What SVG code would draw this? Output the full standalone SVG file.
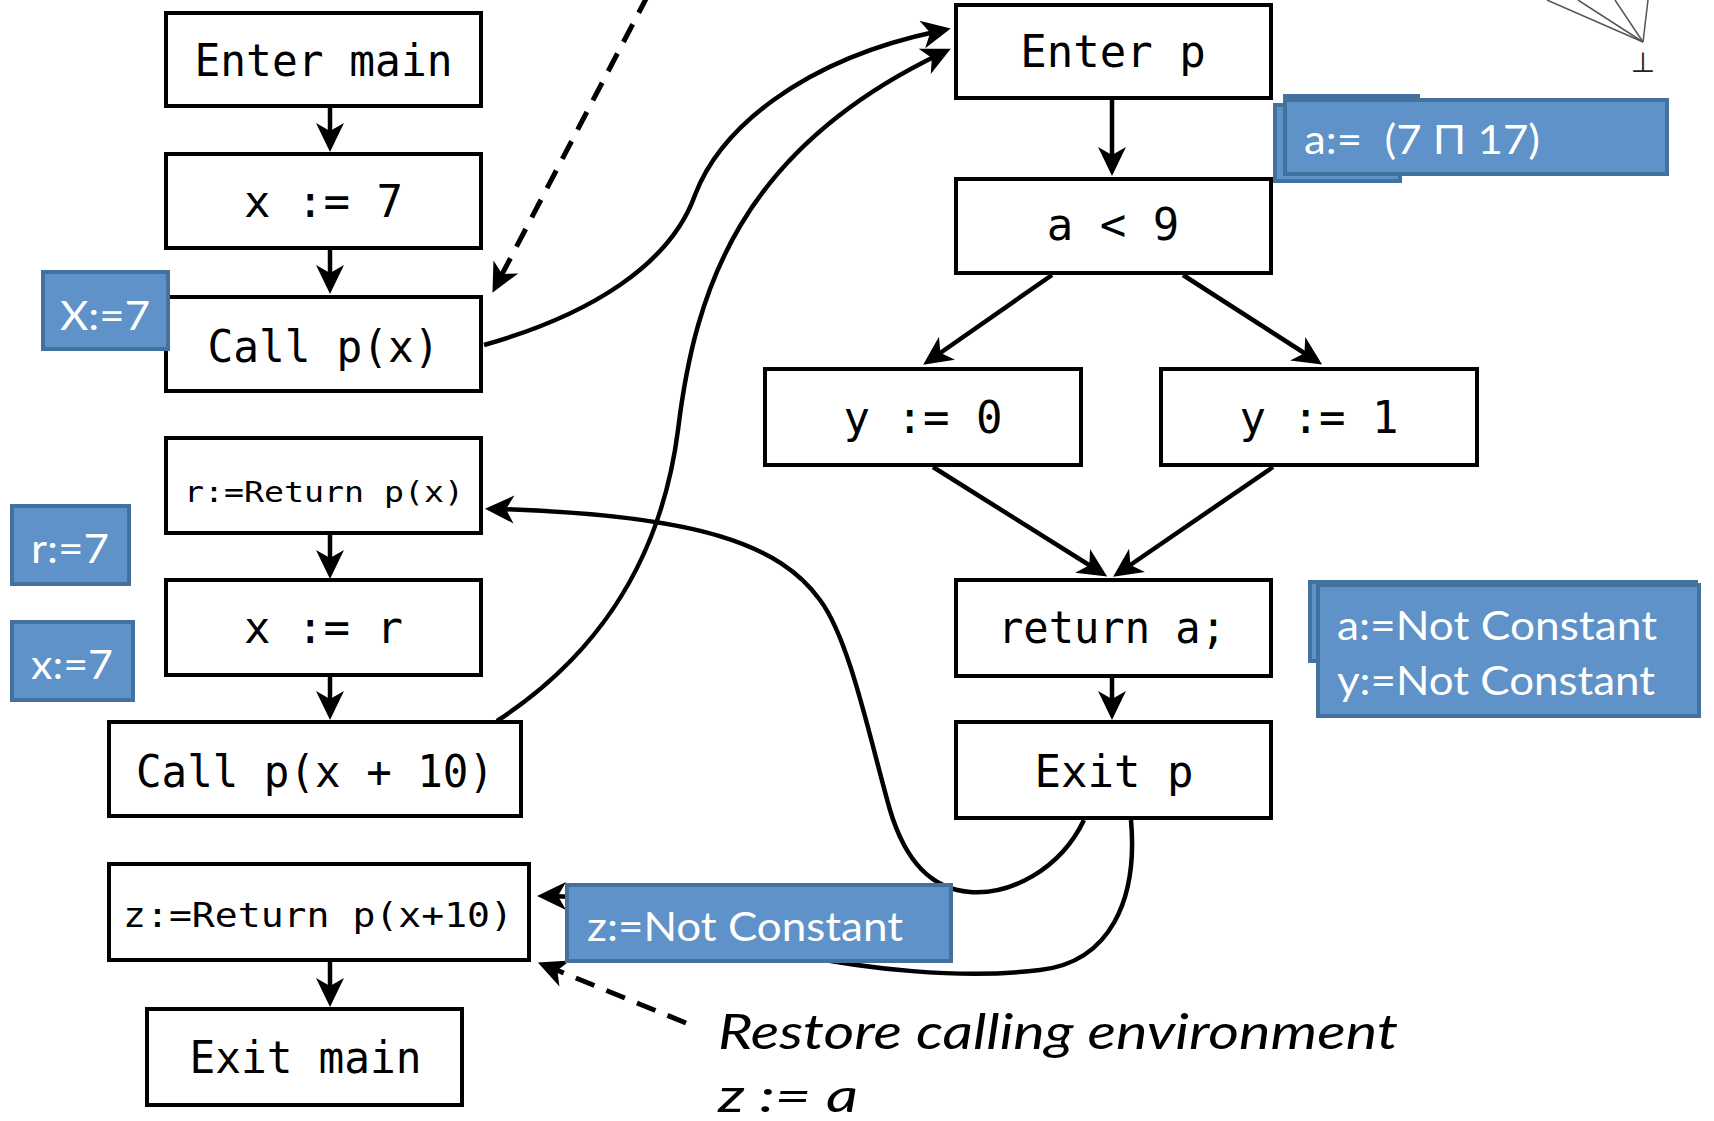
<svg xmlns="http://www.w3.org/2000/svg" width="1714" height="1121" viewBox="0 0 1714 1121">
<style>
.box{fill:#fff;stroke:#000;stroke-width:4}
.lbl{font-family:"DejaVu Sans Mono","Liberation Mono",monospace;font-size:44px;fill:#000;text-anchor:middle}
.edge{fill:none;stroke:#000;stroke-width:4.5;marker-end:url(#ah)}
.dash{fill:none;stroke:#000;stroke-width:5;stroke-dasharray:20 13;marker-end:url(#ah)}
.note{fill:#5e92c8;stroke:#44729f;stroke-width:4}
.nt{font-family:Lato,"Open Sans","Liberation Sans",sans-serif;font-size:40px;fill:#fff}
.it{font-family:Lato,"Open Sans","Liberation Sans",sans-serif;font-style:italic;font-size:48px;fill:#000}
.thin{stroke:#555;stroke-width:1.5;fill:none}
</style>
<defs>
<marker id="ah" markerUnits="userSpaceOnUse" markerWidth="40" markerHeight="40" viewBox="-20 -20 40 40" refX="0" refY="0" orient="auto">
<path d="M12,0 L-17,-14 L-9,0 L-17,14 Z" fill="#000"/>
</marker>
</defs>
<rect width="1714" height="1121" fill="#fff"/>

<g id="lattice">
<line class="thin" x1="1547" y1="0" x2="1643" y2="42"/>
<line class="thin" x1="1578" y1="0" x2="1643" y2="42"/>
<line class="thin" x1="1615" y1="0" x2="1643" y2="42"/>
<line class="thin" x1="1648" y1="0" x2="1643" y2="42"/>
<text x="1643" y="72" font-family="DejaVu Sans,sans-serif" font-size="28" fill="#222" text-anchor="middle">⊥</text>
</g>

<g id="connectors">
<path class="edge" d="M330,108 V140"/>
<path class="edge" d="M330,250 V282"/>
<path class="edge" d="M330,535 V567"/>
<path class="edge" d="M330,677 V708"/>
<path class="edge" d="M330,962 V995"/>
<path class="edge" d="M1112,100 V164"/>
<path class="edge" d="M1112,678 V708"/>
<path class="edge" d="M1052,275 L933,358"/>
<path class="edge" d="M1183,275 L1312,358"/>
<path class="edge" d="M933,467 L1097,570"/>
<path class="edge" d="M1273,467 L1123,570"/>
<path class="edge" d="M484,345 C590,315 670,265 695,195 C720,130 800,60 939,31"/>
<path class="edge" d="M497,721 C590,660 660,570 678,430 C695,290 740,150 940,54"/>
<path class="edge" d="M1084,820 C1060,870 1010,895 970,892 C930,889 905,860 890,810 C870,740 850,640 820,600 C780,545 700,515 497,509"/>
<path class="edge" d="M1131,820 C1138,900 1110,962 1040,970 C960,980 860,968 800,955 C720,938 640,896 549,896"/>
<path class="dash" d="M648,-5 L498,282"/>
<path class="dash" d="M686,1023 L549,967"/>
</g>

<g id="n-enter-main"><rect class="box" x="166" y="13" width="315" height="93"/><text class="lbl" x="323.5" y="76" textLength="258" lengthAdjust="spacingAndGlyphs">Enter main</text></g>
<g id="n-x7"><rect class="box" x="166" y="154" width="315" height="94"/><text class="lbl" x="323.5" y="217">x := 7</text></g>
<g id="n-callpx"><rect class="box" x="166" y="297" width="315" height="94"/><text class="lbl" x="323.5" y="362" textLength="232" lengthAdjust="spacingAndGlyphs">Call p(x)</text></g>
<g id="n-retpx"><rect class="box" x="166" y="438" width="315" height="95"/><text class="lbl" x="324" y="502" style="font-size:28px" textLength="280" lengthAdjust="spacingAndGlyphs">r:=Return p(x)</text></g>
<g id="n-xr"><rect class="box" x="166" y="580" width="315" height="95"/><text class="lbl" x="323.5" y="643">x := r</text></g>
<g id="n-callpx10"><rect class="box" x="109" y="722" width="412" height="94"/><text class="lbl" x="315" y="787" textLength="358" lengthAdjust="spacingAndGlyphs">Call p(x + 10)</text></g>
<g id="n-retpx10"><rect class="box" x="109" y="864" width="420" height="96"/><text class="lbl" x="318" y="927" style="font-size:33px" textLength="390" lengthAdjust="spacingAndGlyphs">z:=Return p(x+10)</text></g>
<g id="n-exit-main"><rect class="box" x="147" y="1009" width="315" height="96"/><text class="lbl" x="305.5" y="1073" textLength="232" lengthAdjust="spacingAndGlyphs">Exit main</text></g>
<g id="n-enter-p"><rect class="box" x="956" y="5" width="315" height="93"/><text class="lbl" x="1113" y="67">Enter p</text></g>
<g id="n-alt9"><rect class="box" x="956" y="179" width="315" height="94"/><text class="lbl" x="1113" y="240">a &lt; 9</text></g>
<g id="n-y0"><rect class="box" x="765" y="369" width="316" height="96"/><text class="lbl" x="923" y="433">y := 0</text></g>
<g id="n-y1"><rect class="box" x="1161" y="369" width="316" height="96"/><text class="lbl" x="1319" y="433">y := 1</text></g>
<g id="n-return"><rect class="box" x="956" y="580" width="315" height="96"/><text class="lbl" x="1112" y="643" textLength="228" lengthAdjust="spacingAndGlyphs">return a;</text></g>
<g id="n-exit-p"><rect class="box" x="956" y="722" width="315" height="96"/><text class="lbl" x="1114" y="787">Exit p</text></g>

<g id="note-X7"><rect class="note" x="43" y="272" width="125" height="77"/><text class="nt" x="60" y="330" textLength="90" lengthAdjust="spacingAndGlyphs">X:=7</text></g>
<g id="note-r7"><rect class="note" x="12" y="506" width="117" height="78"/><text class="nt" x="31" y="563" textLength="78" lengthAdjust="spacingAndGlyphs">r:=7</text></g>
<g id="note-x7"><rect class="note" x="12" y="622" width="121" height="78"/><text class="nt" x="31" y="679" textLength="82" lengthAdjust="spacingAndGlyphs">x:=7</text></g>
<g id="note-a">
<rect class="note" x="1285" y="96" width="133" height="60"/>
<rect class="note" x="1275" y="105" width="125" height="76"/>
<rect class="note" x="1285" y="100" width="382" height="74"/>
<text class="nt" x="1304" y="154" textLength="236" lengthAdjust="spacingAndGlyphs" xml:space="preserve">a:=  (7 Π 17)</text>
</g>
<g id="note-ay">
<rect class="note" x="1310" y="582" width="386" height="79"/>
<rect class="note" x="1318" y="585" width="381" height="131"/>
<text class="nt" x="1337" y="640" textLength="320" lengthAdjust="spacingAndGlyphs">a:=Not Constant</text>
<text class="nt" x="1337" y="695" textLength="318" lengthAdjust="spacingAndGlyphs">y:=Not Constant</text>
</g>
<g id="note-z"><rect class="note" x="567" y="885" width="384" height="76"/><text class="nt" x="587" y="941" textLength="316" lengthAdjust="spacingAndGlyphs">z:=Not Constant</text></g>

<g id="caption">
<text class="it" x="718" y="1049" textLength="680" lengthAdjust="spacingAndGlyphs">Restore calling environment</text>
<text class="it" x="718" y="1112" style="font-size:46px" textLength="140" lengthAdjust="spacingAndGlyphs">z := a</text>
</g>
</svg>
